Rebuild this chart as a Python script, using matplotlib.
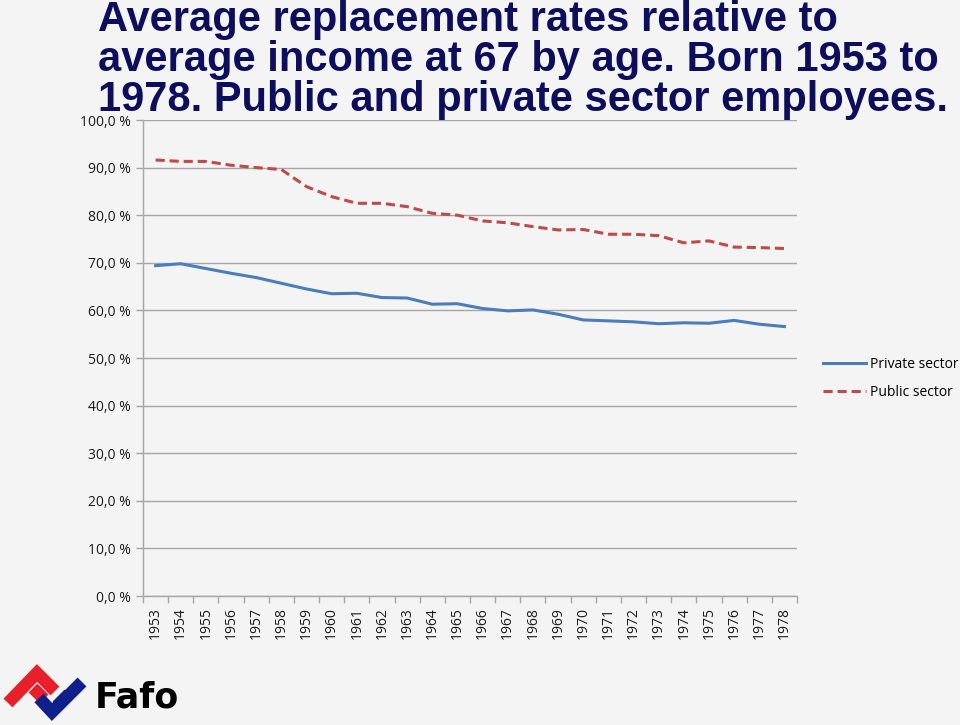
import matplotlib
matplotlib.use("Agg")
import matplotlib.pyplot as plt
from matplotlib.lines import Line2D
from matplotlib.ticker import FixedLocator, FuncFormatter

# data
years = list(range(1953, 1979))
private_sector = [69.4, 69.8, 68.8, 67.8, 66.9, 65.7, 64.5, 63.5, 63.6, 62.7,
                  62.6, 61.3, 61.4, 60.4, 59.9, 60.1, 59.2, 58.0, 57.8, 57.6,
                  57.2, 57.4, 57.3, 57.9, 57.1, 56.6]
public_sector = [91.6, 91.3, 91.3, 90.5, 90.0, 89.6, 86.0, 83.9, 82.5, 82.5,
                 81.8, 80.4, 80.0, 78.8, 78.4, 77.6, 76.9, 77.0, 76.0, 76.0,
                 75.7, 74.2, 74.6, 73.3, 73.2, 73.0]
y_ticks = list(range(0, 101, 10))

title_lines = ["Average replacement rates relative to",
               "average income at 67 by age. Born 1953 to",
               "1978. Public and private sector employees."]

bg = "#f4f4f4"
grid_col = "#a6a6a6"
blue = "#4a7ebb"
red = "#be4b48"

W, H = 960, 725
fig = plt.figure(figsize=(9.6, 7.25), dpi=100, facecolor=bg)

ax = fig.add_axes([143 / W, 1 - 596 / H, 654 / W, 476 / H])
ax.set_facecolor(bg)
x = list(range(len(years)))
ax.plot(x, private_sector, color=blue, lw=2.2, solid_joinstyle="round")
ax.plot(x, public_sector, color=red, lw=2.2, dashes=(3, 1.6))

ax.set_xlim(-0.5, len(years) - 0.5)
ax.set_ylim(0, 100)
ax.set_yticks(y_ticks)
ax.yaxis.set_major_formatter(FuncFormatter(lambda v, p: f"{v:.1f} %".replace(".", ",")))
ax.grid(axis="y", color=grid_col, lw=1)
ax.set_axisbelow(True)

ax.set_xticks(x)
ax.set_xticklabels([str(y) for y in years], rotation=90)
ax.xaxis.set_minor_locator(FixedLocator([i - 0.5 for i in range(len(years) + 1)]))
ax.tick_params(axis="x", which="major", length=0, pad=8, labelsize=10, labelcolor="#1a1a1a")
ax.tick_params(axis="x", which="minor", length=5, color=grid_col, width=1)
ax.tick_params(axis="y", length=5, color=grid_col, width=1, pad=4, labelsize=10,
               labelcolor="#1a1a1a")
for lab in ax.get_xticklabels() + ax.get_yticklabels():
    lab.set_family("Open Sans")

for side in ["top", "right"]:
    ax.spines[side].set_visible(False)
for side in ["left", "bottom"]:
    ax.spines[side].set_color(grid_col)
    ax.spines[side].set_linewidth(1)

handles = [Line2D([], [], color=blue, lw=2.2),
           Line2D([], [], color=red, lw=2.2, dashes=(3, 1.6))]
fig.legend(handles, ["Private sector", "Public sector"], loc="upper left",
           bbox_to_anchor=(810 / W, 1 - 344 / H), frameon=False, handlelength=3.1,
           handletextpad=0.3, labelspacing=0.95, prop={"family": "Open Sans", "size": 10})

for i, line in enumerate(title_lines):
    fig.text(98 / W, 1 - (30.5 + 40.5 * i) / H, line, ha="left", va="baseline",
             fontsize=30, fontweight="bold", family="Liberation Sans",
             color="#0d0d5e", zorder=10)

# Fafo logo
logo = fig.add_axes([0, 0, 100 / W, 70 / H])
logo.set_xlim(0, 100)
logo.set_ylim(725, 655)
logo.axis("off")
logo.plot([8, 37, 55], [703, 673, 691], color="#e8202a", lw=9, solid_capstyle="butt",
          solid_joinstyle="miter")
logo.plot([33, 44], [688, 699], color="#e8202a", lw=9, solid_capstyle="butt")
logo.plot([39, 52, 82], [698, 712, 682], color="#0f1f8c", lw=9, solid_capstyle="butt",
          solid_joinstyle="miter")
logo.plot([57, 69], [706, 694], color="#0f1f8c", lw=9, solid_capstyle="butt")
fig.text(95 / W, 1 - 707 / H, "Fafo", ha="left", va="baseline", fontsize=25,
         fontweight="bold", family="DejaVu Sans", color="black")

fig.savefig("out.png", dpi=100, facecolor=bg)
